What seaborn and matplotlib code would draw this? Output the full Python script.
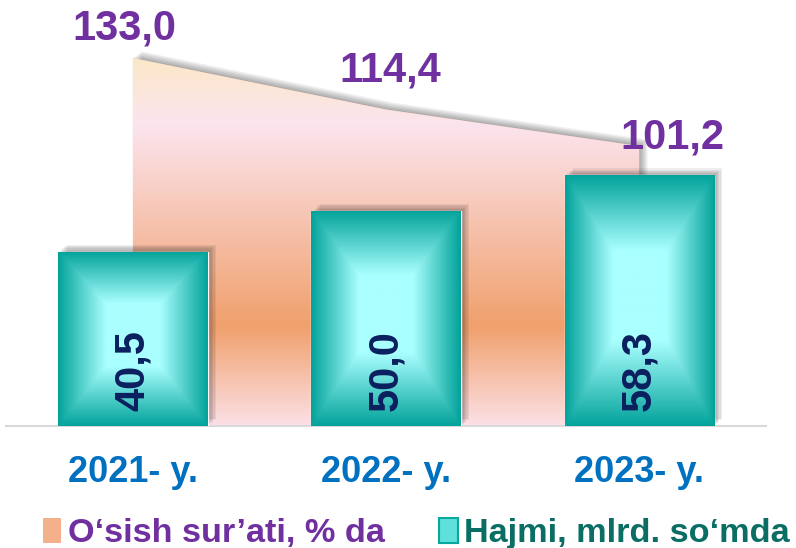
import numpy as np
import pandas as pd
import seaborn as sns
import matplotlib.pyplot as plt
from matplotlib import patheffects as pe
from matplotlib.colors import LinearSegmentedColormap, to_rgb
from matplotlib.patches import Patch

# data
years = ["2021- y.", "2022- y.", "2023- y."]
volume = [40.5, 50.0, 58.3]          # Hajmi, mlrd. so'mda
growth = [133.0, 114.4, 101.2]        # O'sish sur'ati, % da
growth_label_offsets = [(-6, 21), (3, 28), (24, 6)]

sns.set_theme(style="white")
plt.rcParams["font.family"] = ["Liberation Sans", "DejaVu Sans"]

df = pd.DataFrame({"year": years, "volume": volume, "growth": growth})

fig = plt.figure(figsize=(7.96, 5.48), dpi=100)
ax = fig.add_axes([0.008, 0.2226, 0.954, 0.7774])
ax2 = ax.twinx()
ax.set_zorder(ax2.get_zorder() + 1)
ax.patch.set_visible(False)


def soft_shadow(dark, steps=(1, 2, 3, 4, 5, 6), alpha=0.07):
    return [pe.SimplePatchShadow(offset=(o, o * 0.8), shadow_rgbFace=dark, alpha=alpha)
            for o in steps] + [pe.Normal()]


# ---- growth area (secondary axis) with vertical gradient
xpos = np.arange(len(years))
area = ax2.fill_between(xpos, 0, df["growth"], color="#F4B896", lw=0,
                        path_effects=soft_shadow("0.15"))
area_cmap = LinearSegmentedColormap.from_list(
    "area", [(0.0, "#FCE0E6"), (0.27, "#F0A06C"), (0.82, "#FCE4EE"), (1.0, "#FBE8C8")])
top = max(growth)
grad = np.linspace(0, 1, 256).reshape(-1, 1)
img = ax2.imshow(grad, cmap=area_cmap, origin="lower", aspect="auto",
                 extent=(-0.5, 2.5, 0, top), zorder=2)
img.set_clip_path(area.get_paths()[0], ax2.transData)

for i, v in enumerate(growth):
    ax2.annotate(f"{v:.1f}".replace(".", ","), xy=(i, v), xytext=growth_label_offsets[i],
                 textcoords="offset points", ha="center", va="center",
                 fontsize=30, fontweight="bold", color="#7030A0", zorder=5)

# ---- volume bars (primary axis)
sns.barplot(data=df, x="year", y="volume", color="#07A89F", width=0.59,
            saturation=1, ax=ax, zorder=3)

edge = np.array(to_rgb("#03A39B"))
centre = np.array(to_rgb("#AAFFFF"))
for bar in ax.patches:
    bar.set_path_effects(soft_shadow("0.1"))
    x0, y0 = bar.get_x(), bar.get_y()
    w, h = bar.get_width(), bar.get_height()
    u = np.linspace(0, 1, 120)
    vv = np.linspace(0, 1, 200)
    U, V = np.meshgrid(u, vv)
    t = np.minimum.reduce([U / 0.32, (1 - U) / 0.32, V / 0.34, (1 - V) / 0.30])
    t = np.clip(t, 0, 1)
    rgb = edge + (centre - edge) * t[..., None]
    im = ax.imshow(rgb, origin="lower", aspect="auto",
                   extent=(x0, x0 + w, y0, y0 + h), zorder=4)
    im.set_clip_path(bar)

for i, v in enumerate(volume):
    ax.annotate(f"{v:.1f}".replace(".", ","), xy=(i, 0), xytext=(0, 11),
                textcoords="offset points", rotation=90, ha="center", va="bottom",
                fontsize=30, fontweight="bold", color="#0B1F5E", zorder=6)

ax.set_xlim(-0.5, 2.5)
ax.set_ylim(0, 99)
ax2.set_ylim(0, 154)
ax.set_xlabel("")
ax.set_ylabel("")
ax.set_yticks([])
ax2.set_yticks([])
ax.tick_params(axis="x", length=0, pad=21)
for lab in ax.get_xticklabels():
    lab.set_fontsize(26)
    lab.set_fontweight("bold")
    lab.set_color("#0070C0")
for a in (ax, ax2):
    for s in a.spines.values():
        s.set_visible(False)
ax.spines["bottom"].set_visible(True)
ax.spines["bottom"].set_color("#D9D9D9")
ax.spines["bottom"].set_linewidth(1.5)

handles = [Patch(facecolor="#F4B08A", edgecolor="none"),
           Patch(facecolor="#5FE0DA", edgecolor="#07A89F", linewidth=1.5)]
leg = fig.legend(handles, ["O‘sish sur’ati, % da", "Hajmi, mlrd. so‘mda"],
                 loc="center", bbox_to_anchor=(0.523, 0.026), ncol=2, frameon=False,
                 prop={"weight": "bold", "size": 24.7},
                 handlelength=0.53, handleheight=0.72, handletextpad=0.2,
                 columnspacing=1.6, borderpad=0)
leg.get_texts()[0].set_color("#7030A0")
leg.get_texts()[1].set_color("#0B6E64")

fig.savefig("out.png", dpi=100)
